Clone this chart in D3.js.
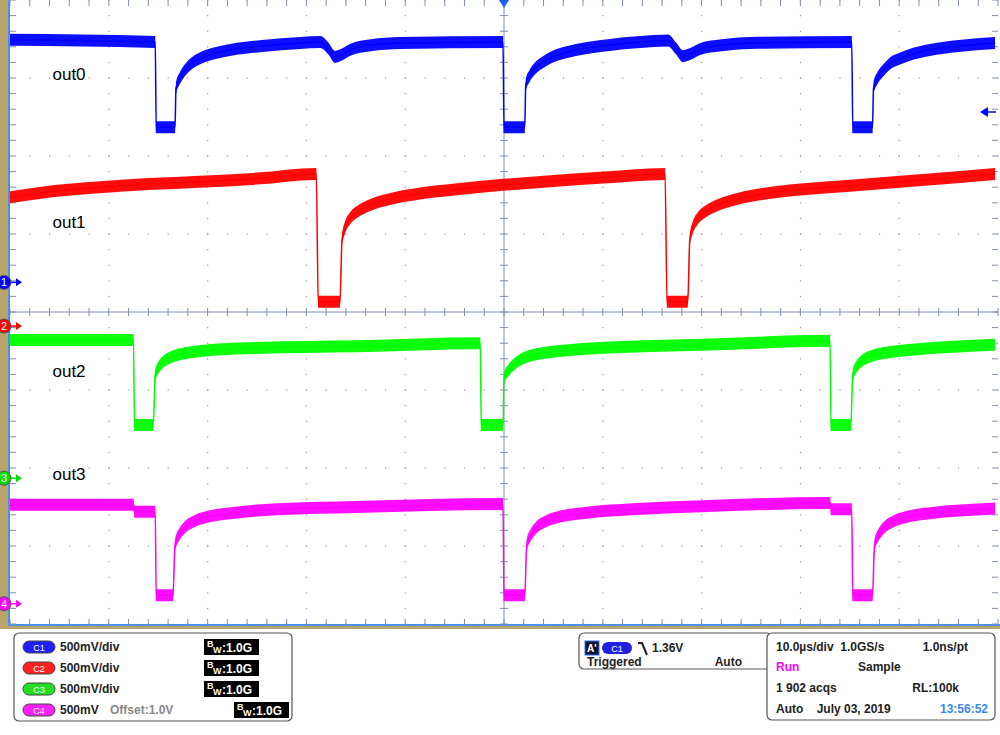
<!DOCTYPE html>
<html><head><meta charset="utf-8">
<script src="https://cdn.jsdelivr.net/npm/d3@7"></script>
<style>body{margin:0;background:#fff}text{font-family:Arial,"Liberation Sans",sans-serif}</style>
</head><body><svg id="c" width="1000" height="735"></svg>
<script>
// time in microseconds (10 us/div), level in screen divisions from centre (+4 top .. -4 bottom)
var out0 = [[0,3.49],[14.7,3.46],[14.8,2.37],[16.7,2.37],[16.8,2.87],[17.2,3.0],[17.7,3.10],[18.4,3.19],[19.2,3.25],[20.5,3.31],[22.3,3.36],[25.5,3.41],[29.4,3.45],[31.4,3.46],[32.2,3.38],[32.9,3.27],[33.6,3.30],[34.4,3.36],[36.5,3.42],[39.5,3.45],[49.9,3.46],[50.0,2.37],[52.1,2.37],[52.2,2.91],[52.6,3.03],[53.1,3.12],[53.9,3.20],[54.7,3.26],[56.0,3.32],[57.7,3.37],[60.5,3.42],[63.8,3.46],[66.6,3.48],[67.4,3.38],[68.1,3.28],[68.9,3.31],[69.8,3.37],[72,3.42],[74.9,3.45],[85.2,3.46],[85.3,2.37],[87.3,2.37],[87.4,2.87],[87.8,3.0],[88.4,3.10],[89.1,3.19],[90.1,3.25],[91.4,3.31],[93.1,3.36],[96,3.41],[99.7,3.45]];
var out1 = [[0,1.47],[4.5,1.55],[9.1,1.60],[14,1.64],[19.2,1.67],[25,1.71],[31.0,1.77],[31.2,0.13],[33.4,0.13],[33.6,0.92],[33.9,1.08],[34.4,1.20],[35.2,1.29],[36.4,1.37],[38.5,1.45],[41.5,1.52],[45,1.57],[49.9,1.63],[55,1.68],[59.7,1.72],[66.3,1.77],[66.5,0.13],[68.6,0.13],[68.8,0.92],[69.1,1.08],[69.6,1.20],[70.4,1.29],[71.6,1.37],[73.6,1.45],[76.5,1.52],[80,1.57],[85,1.62],[92,1.69],[99.7,1.77]];
var out2 = [[0,-0.36],[12.5,-0.36],[12.6,-1.45],[14.5,-1.45],[14.7,-0.81],[15.1,-0.70],[15.7,-0.62],[16.7,-0.56],[18.2,-0.52],[21,-0.48],[25,-0.46],[35,-0.44],[47.6,-0.40],[47.7,-1.45],[49.9,-1.45],[50.0,-0.85],[50.5,-0.74],[51.2,-0.65],[52.2,-0.58],[53.8,-0.53],[56.5,-0.49],[62,-0.45],[70,-0.42],[83.0,-0.37],[83.1,-1.45],[85.1,-1.45],[85.3,-0.81],[85.7,-0.70],[86.3,-0.62],[87.3,-0.56],[88.8,-0.52],[91.6,-0.48],[95,-0.45],[99.7,-0.42]];
var out3 = [[0,-2.47],[12.5,-2.47],[12.6,-2.56],[14.7,-2.56],[14.8,-3.63],[16.5,-3.63],[16.7,-2.99],[17.1,-2.86],[17.7,-2.76],[18.7,-2.68],[20.2,-2.62],[23,-2.57],[27,-2.53],[35,-2.50],[49.9,-2.46],[50.0,-3.63],[52.1,-3.63],[52.3,-2.99],[52.7,-2.86],[53.3,-2.76],[54.3,-2.68],[55.8,-2.62],[58.6,-2.57],[63,-2.53],[70,-2.49],[83.0,-2.45],[83.1,-2.53],[85.2,-2.53],[85.3,-3.63],[87.3,-3.63],[87.5,-2.99],[87.9,-2.86],[88.5,-2.76],[89.5,-2.68],[91,-2.62],[93.8,-2.57],[97,-2.54],[99.7,-2.52]];
var traces = [
  {name:"out0", data:out0, color:"#0000ff", label:[4.3,2.98]},
  {name:"out1", data:out1, color:"#ff0000", label:[4.3,1.08]},
  {name:"out2", data:out2, color:"#00ff00", label:[4.3,-0.83]},
  {name:"out3", data:out3, color:"#ff00ff", label:[4.3,-2.16]}
];
var markers = [["1",0.38,"#0000ff"],["2",-0.18,"#ff0000"],["3",-2.13,"#00e000"],["4",-3.74,"#ff00ff"]];
var chanRows = [["C1","500mV/div","","#2020ff"],["C2","500mV/div","","#ff2020"],["C3","500mV/div","","#20e020"],["C4","500mV","Offset:1.0V","#ff20ff"]];

var svg = d3.select("#c");
var x = d3.scaleLinear().domain([0,100]).range([10,998]);
var y = d3.scaleLinear().domain([-4,4]).range([624,0]);

// frame
svg.append("rect").attr("x",0).attr("y",0).attr("width",8).attr("height",628).attr("fill","#b9a46a");
svg.append("rect").attr("x",0).attr("y",626).attr("width",1000).attr("height",3).attr("fill","#b9a46a");
svg.append("line").attr("x1",9).attr("x2",9).attr("y1",0).attr("y2",625).attr("stroke","#4a90e8").attr("stroke-width",2);
svg.append("line").attr("x1",8).attr("x2",1000).attr("y1",625).attr("y2",625).attr("stroke","#4a90e8").attr("stroke-width",2);

// graticule
var g = svg.append("g");
var gc = "#9a9aa8";
d3.range(0,101,10).forEach(function(t){
  d3.range(-4,4.01,0.2).forEach(function(v){
    if (t%50!==0) g.append("rect").attr("x",x(t)-0.5).attr("y",y(v)-0.5).attr("width",1.2).attr("height",1.2).attr("fill",gc);
  });
});
d3.range(-4,4.01,1).forEach(function(v){
  d3.range(0,100.1,2).forEach(function(t){
    if (v!==0) g.append("rect").attr("x",x(t)-0.5).attr("y",y(v)-0.5).attr("width",1.2).attr("height",1.2).attr("fill",gc);
  });
});
g.append("line").attr("x1",x(50)).attr("x2",x(50)).attr("y1",0).attr("y2",624).attr("stroke","#8090b0");
g.append("line").attr("x1",10).attr("x2",998).attr("y1",y(0)).attr("y2",y(0)).attr("stroke","#8090b0");
d3.range(0,100.1,2).forEach(function(t){
  [[y(0)-4,y(0)+4],[0,6],[619,624]].forEach(function(s){
    g.append("line").attr("x1",x(t)).attr("x2",x(t)).attr("y1",s[0]).attr("y2",s[1]).attr("stroke","#8090b0");
  });
});
d3.range(-4,4.01,0.2).forEach(function(v){
  [[x(50)-4,x(50)+4],[10,16],[992,998]].forEach(function(s){
    g.append("line").attr("x1",s[0]).attr("x2",s[1]).attr("y1",y(v)).attr("y2",y(v)).attr("stroke","#8090b0");
  });
});

// traces: noisy band as area, edges as thin line
var curve = d3.curveMonotoneX;
var area = d3.area().curve(curve).x(function(d){return x(d[0]);}).y0(function(d){return y(d[1])-6;}).y1(function(d){return y(d[1])+6;});
var line = d3.line().curve(curve).x(function(d){return x(d[0]);}).y(function(d){return y(d[1]);});
traces.forEach(function(tr){
  svg.append("path").attr("d",area(tr.data)).attr("fill",tr.color).attr("opacity",0.95);
  svg.append("path").attr("d",line(tr.data)).attr("fill","none").attr("stroke",tr.color).attr("stroke-width",1.5);
  svg.append("text").attr("x",x(tr.label[0])).attr("y",y(tr.label[1])).attr("font-size",17).attr("fill","#000").text(tr.name);
});

// channel markers
markers.forEach(function(m){
  var yy = y(m[1]);
  svg.append("line").attr("x1",5).attr("x2",20).attr("y1",yy).attr("y2",yy).attr("stroke",m[2]).attr("stroke-width",1.5);
  svg.append("path").attr("d","M16,"+(yy-4)+"L22,"+yy+"L16,"+(yy+4)+"Z").attr("fill",m[2]);
  svg.append("circle").attr("cx",4).attr("cy",yy).attr("r",7).attr("fill",m[2]).attr("stroke","#555");
  svg.append("text").attr("x",4).attr("y",yy+4).attr("text-anchor","middle").attr("font-size",11).attr("fill","#fff").text(m[0]);
});
svg.append("path").attr("d","M"+(x(50)-5)+",0L"+(x(50)+5)+",0L"+x(50)+",8Z").attr("fill","#2060ff");
svg.append("path").attr("d","M980,112L988,107L988,117Z").attr("fill","#0000ff");
svg.append("line").attr("x1",986).attr("x2",996).attr("y1",112).attr("y2",112).attr("stroke","#0000ff").attr("stroke-width",1.5);

// bottom panels
function box(x0,y0,w,h){svg.append("rect").attr("x",x0).attr("y",y0).attr("width",w).attr("height",h).attr("rx",5).attr("fill","#fff").attr("stroke","#555").attr("stroke-width",1.2);}
function txt(x0,y0,s,c,anchor){svg.append("text").attr("x",x0).attr("y",y0).attr("font-size",12).attr("font-weight","bold").attr("fill",c||"#222").attr("text-anchor",anchor||"start").attr("xml:space","preserve").text(s);}
box(14,633,278,88);
chanRows.forEach(function(r,i){
  var yy = 647+i*21;
  svg.append("rect").attr("x",23).attr("y",yy-6).attr("width",32).attr("height",12).attr("rx",6).attr("fill",r[3]).attr("stroke","#444");
  svg.append("text").attr("x",39).attr("y",yy+3.5).attr("text-anchor","middle").attr("font-size",9).attr("fill","#fff").text(r[0]);
  txt(60,yy+4,r[1]);
  if (r[2]) txt(110,yy+4,r[2],"#888");
  var bx = i<3 ? 204 : 234;
  svg.append("rect").attr("x",bx).attr("y",yy-8).attr("width",55).attr("height",16).attr("fill","#000");
  svg.append("text").attr("x",bx+3).attr("y",yy+0).attr("font-size",9).attr("font-weight","bold").attr("fill","#fff").text("B");
  svg.append("text").attr("x",bx+9).attr("y",yy+6).attr("font-size",9).attr("font-weight","bold").attr("fill","#fff").text("W");
  svg.append("text").attr("x",bx+18).attr("y",yy+5).attr("font-size",12).attr("font-weight","bold").attr("fill","#fff").text(":1.0G");
});
box(579,633,193,36);
svg.append("rect").attr("x",585).attr("y",641).attr("width",14).attr("height",14).attr("fill","#113").attr("stroke","#3070ff");
svg.append("text").attr("x",587).attr("y",652).attr("font-size",10).attr("font-weight","bold").attr("fill","#fff").text("A'");
svg.append("rect").attr("x",602).attr("y",642).attr("width",30).attr("height",12).attr("rx",6).attr("fill","#2020e0");
svg.append("text").attr("x",617).attr("y",651.5).attr("text-anchor","middle").attr("font-size",9).attr("fill","#fff").text("C1");
svg.append("path").attr("d","M638,643L642,643L647,655").attr("fill","none").attr("stroke","#222").attr("stroke-width",2);
txt(652,652,"1.36V");
txt(587,666,"Triggered");
txt(742,666,"Auto",null,"end");
box(767,633,228,87);
txt(776,651,"10.0µs/div  1.0GS/s");
txt(968,651,"1.0ns/pt",null,"end");
txt(776,671,"Run","#ff00ff");
txt(858,671,"Sample");
txt(776,692,"1 902 acqs");
txt(959,692,"RL:100k",null,"end");
txt(776,713,"Auto    July 03, 2019");
txt(988,713,"13:56:52","#3a8af0","end");
</script></body></html>
